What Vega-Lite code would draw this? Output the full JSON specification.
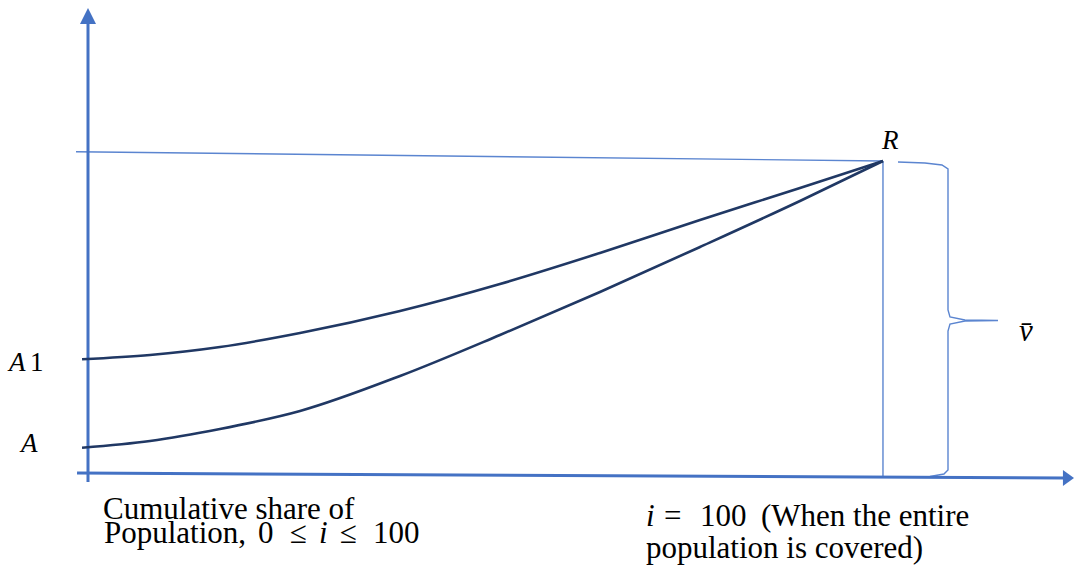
{
  "$schema": "https://vega.github.io/schema/vega-lite/v6.json",
  "width": 1074,
  "height": 568,
  "padding": 0,
  "autosize": {"type": "fit", "contains": "padding"},
  "background": "white",
  "config": {"view": {"stroke": null}},
  "datasets": {
    "thin": [
      {"seg": "top", "ord": 1, "x": -1.51, "y": 102.99},
      {"seg": "top", "ord": 2, "x": 100, "y": 100},
      {"seg": "vert", "ord": 1, "x": 100, "y": 100},
      {"seg": "vert", "ord": 2, "x": 100, "y": -1.61},
      {"seg": "brace", "ord": 1, "x": 101.89, "y": 99.68},
      {"seg": "brace", "ord": 2, "x": 105.28, "y": 99.36},
      {"seg": "brace", "ord": 3, "x": 107.42, "y": 98.71},
      {"seg": "brace", "ord": 4, "x": 108.18, "y": 97.43},
      {"seg": "brace", "ord": 5, "x": 108.18, "y": 52.09},
      {"seg": "brace", "ord": 6, "x": 108.43, "y": 49.84},
      {"seg": "brace", "ord": 7, "x": 110.31, "y": 48.87},
      {"seg": "brace", "ord": 8, "x": 114.47, "y": 48.71},
      {"seg": "brace", "ord": 9, "x": 110.31, "y": 48.55},
      {"seg": "brace", "ord": 10, "x": 108.43, "y": 47.59},
      {"seg": "brace", "ord": 11, "x": 108.18, "y": 45.34},
      {"seg": "brace", "ord": 12, "x": 108.18, "y": 0.64},
      {"seg": "brace", "ord": 13, "x": 107.67, "y": -0.64},
      {"seg": "brace", "ord": 14, "x": 105.91, "y": -1.45},
      {"seg": "brace", "ord": 15, "x": 102.77, "y": -1.61}
    ],
    "axes": [
      {"seg": "yaxis", "ord": 1, "x": 0, "y": -3.22},
      {"seg": "yaxis", "ord": 2, "x": 0, "y": 144.69},
      {"seg": "xaxis", "ord": 1, "x": -1.38, "y": -0.32},
      {"seg": "xaxis", "ord": 2, "x": 122.77, "y": -1.93}
    ],
    "yarrow": [
      {"x": -1.01, "y": 144.05, "y2": 144.05},
      {"x": 0, "y": 149.2, "y2": 144.05},
      {"x": 1.01, "y": 144.05, "y2": 144.05}
    ],
    "xarrow": [
      {"y": 0.64, "x": 122.64, "x2": 122.64},
      {"y": -1.93, "x": 124.03, "x2": 122.64},
      {"y": -4.5, "x": 122.64, "x2": 122.64}
    ],
    "curves": [
      {"curve": "A1", "x": -0.75, "y": 36.24},
      {"curve": "A1", "x": 7.8, "y": 37.62},
      {"curve": "A1", "x": 16.6, "y": 40.19},
      {"curve": "A1", "x": 26.67, "y": 44.69},
      {"curve": "A1", "x": 39.25, "y": 51.77},
      {"curve": "A1", "x": 51.82, "y": 60.45},
      {"curve": "A1", "x": 64.4, "y": 70.42},
      {"curve": "A1", "x": 76.98, "y": 81.03},
      {"curve": "A1", "x": 89.56, "y": 91.32},
      {"curve": "A1", "x": 100, "y": 100},
      {"curve": "A", "x": -0.75, "y": 7.81},
      {"curve": "A", "x": 7.8, "y": 9.97},
      {"curve": "A", "x": 16.6, "y": 13.83},
      {"curve": "A", "x": 26.67, "y": 19.61},
      {"curve": "A", "x": 39.25, "y": 30.87},
      {"curve": "A", "x": 51.82, "y": 44.05},
      {"curve": "A", "x": 64.4, "y": 57.88},
      {"curve": "A", "x": 76.98, "y": 72.35},
      {"curve": "A", "x": 89.56, "y": 87.14},
      {"curve": "A", "x": 100, "y": 100}
    ],
    "labels": [
      {"x": -9.94, "y": 32.48, "t": "A"},
      {"x": -8.43, "y": 6.43, "t": "A"},
      {"x": 99.87, "y": 103.86, "t": "R"}
    ],
    "mathItalic": [
      {"x": 117.11, "y": 42.12, "t": "v̄"},
      {"x": 29.06, "y": -22.83, "t": "i"},
      {"x": 70.19, "y": -17.36, "t": "i"}
    ],
    "one": [
      {"x": -7.3, "y": 32.48, "t": "1"}
    ],
    "upright": [
      {"x": 1.89, "y": -15.11, "t": "Cumulative share of"},
      {"x": 2.01, "y": -22.83, "t": "Population,"},
      {"x": 21.38, "y": -22.83, "t": "0"},
      {"x": 25.41, "y": -22.83, "t": "≤"},
      {"x": 31.7, "y": -22.83, "t": "≤"},
      {"x": 35.85, "y": -22.83, "t": "100"},
      {"x": 72.45, "y": -17.36, "t": "="},
      {"x": 76.98, "y": -17.36, "t": "100"},
      {"x": 84.65, "y": -17.36, "t": "(When the entire"},
      {"x": 70.19, "y": -27.65, "t": "population is covered)"}
    ]
  },
  "encoding": {
    "x": {"field": "x", "type": "quantitative", "axis": null, "scale": {"domain": [-11.07, 124.03], "nice": false, "zero": false}},
    "y": {"field": "y", "type": "quantitative", "axis": null, "scale": {"domain": [-30.87, 151.77], "nice": false, "zero": false}}
  },
  "layer": [
    {
      "data": {"name": "thin"},
      "mark": {"type": "line", "stroke": "#5B85D0", "strokeWidth": 1.4, "interpolate": "linear"},
      "encoding": {"detail": {"field": "seg"}, "order": {"field": "ord"}}
    },
    {
      "data": {"name": "axes"},
      "mark": {"type": "line", "stroke": "#4472C4", "strokeWidth": 3},
      "encoding": {"detail": {"field": "seg"}, "order": {"field": "ord"}}
    },
    {
      "data": {"name": "yarrow"},
      "mark": {"type": "area", "fill": "#4472C4", "orient": "vertical", "interpolate": "linear"},
      "encoding": {"y2": {"field": "y2"}}
    },
    {
      "data": {"name": "xarrow"},
      "mark": {"type": "area", "fill": "#4472C4", "orient": "horizontal", "interpolate": "linear"},
      "encoding": {"x2": {"field": "x2"}}
    },
    {
      "data": {"name": "curves"},
      "mark": {"type": "line", "stroke": "#203864", "strokeWidth": 2.6, "interpolate": "monotone"},
      "encoding": {"detail": {"field": "curve"}}
    },
    {
      "data": {"name": "labels"},
      "mark": {"type": "text", "font": "'Liberation Serif', 'Times New Roman', serif", "fontStyle": "italic", "fontSize": 27, "align": "left", "baseline": "alphabetic", "color": "black"},
      "encoding": {"text": {"field": "t"}}
    },
    {
      "data": {"name": "one"},
      "mark": {"type": "text", "font": "'Liberation Serif', 'Times New Roman', serif", "fontSize": 27, "align": "left", "baseline": "alphabetic", "color": "black"},
      "encoding": {"text": {"field": "t"}}
    },
    {
      "data": {"name": "mathItalic"},
      "mark": {"type": "text", "font": "'Liberation Serif', 'Times New Roman', serif", "fontStyle": "italic", "fontSize": 31, "align": "left", "baseline": "alphabetic", "color": "black"},
      "encoding": {"text": {"field": "t"}}
    },
    {
      "data": {"name": "upright"},
      "mark": {"type": "text", "font": "'Liberation Serif', 'Times New Roman', serif", "fontSize": 31, "align": "left", "baseline": "alphabetic", "color": "black"},
      "encoding": {"text": {"field": "t"}}
    }
  ]
}
